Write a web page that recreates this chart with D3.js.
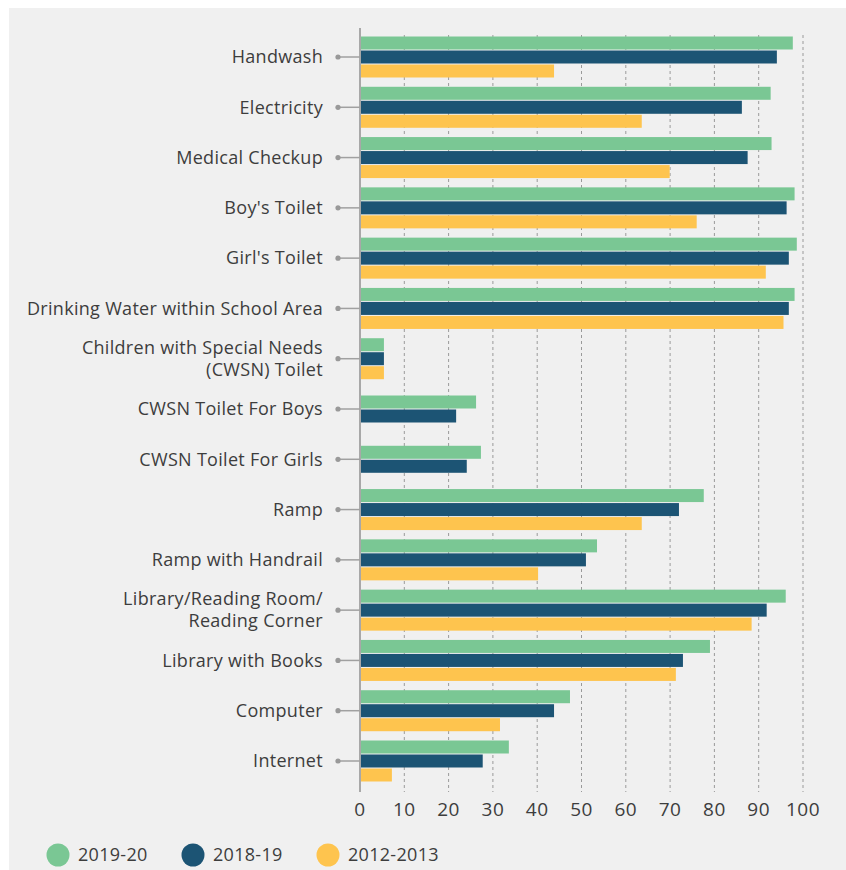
<!DOCTYPE html>
<meta charset="utf-8" />
<style>
  body { margin: 0; background: #fff; }
  text { font-family: "Open Sans", sans-serif; fill: #3d3d3d; }
</style>
<body>
<div id="chart"></div>
<script src="https://d3js.org/d3.v7.min.js"></script>
<script>
  // categories (\n = line break in label)
  var categories = [
    "Handwash",
    "Electricity",
    "Medical Checkup",
    "Boy's Toilet",
    "Girl's Toilet",
    "Drinking Water within School Area",
    "Children with Special Needs\n(CWSN) Toilet",
    "CWSN Toilet For Boys",
    "CWSN Toilet For Girls",
    "Ramp",
    "Ramp with Handrail",
    "Library/Reading Room/\nReading Corner",
    "Library with Books",
    "Computer",
    "Internet"
  ];
  var seriesNames = ["2019-20", "2018-19", "2012-2013"];
  var seriesColors = ["#7ac794", "#1c5474", "#fec44e"];
  var v2019 = [97.7, 92.7, 92.9, 98.1, 98.6, 98.1, 5.4, 26.2, 27.3, 77.6, 53.5, 96.1, 79.0, 47.4, 33.6];
  var v2018 = [94.1, 86.2, 87.5, 96.3, 96.8, 96.8, 5.4, 21.7, 24.1, 72.0, 51.0, 91.8, 72.9, 43.8, 27.7];
  var v2012 = [43.8, 63.6, 69.9, 76.0, 91.6, 95.6, 5.4, null, null, 63.6, 40.2, 88.4, 71.3, 31.6, 7.2];
  var ticks = [0, 10, 20, 30, 40, 50, 60, 70, 80, 90, 100];

  var W = 846, H = 870;
  var svg = d3.select("#chart").append("svg")
    .attr("width", W).attr("height", H);

  // panel background
  svg.append("rect")
    .attr("x", 9).attr("y", 8)
    .attr("width", W - 9).attr("height", H - 8)
    .attr("fill", "#f0f0f0");

  var x = d3.scaleLinear().domain([0, 100]).range([360, 803]);
  var y = d3.scalePoint().domain(categories).range([57, 761]);

  // dashed gridlines
  svg.append("g").selectAll("line")
    .data(ticks.filter(function (t) { return t > 0; }))
    .enter().append("line")
    .attr("x1", function (d) { return x(d); })
    .attr("x2", function (d) { return x(d); })
    .attr("y1", 35).attr("y2", 792)
    .attr("stroke", "#9a9a9a")
    .attr("stroke-width", 1)
    .attr("stroke-dasharray", "3,3");

  // build rows
  var rows = categories.map(function (c, i) {
    var vals = [v2019[i], v2018[i], v2012[i]];
    var bars = [];
    vals.forEach(function (v, j) {
      if (v != null) bars.push({ series: j, value: v });
    });
    return { cat: c, bars: bars };
  });

  var bars = svg.append("g");
  rows.forEach(function (r) {
    var n = r.bars.length;
    var c = y(r.cat);
    var inner = d3.scaleBand()
      .domain(r.bars.map(function (b) { return b.series; }))
      .range([c - (14 * n - 1) / 2, c + (14 * n - 1) / 2])
      .paddingInner(1 / 14);
    bars.selectAll(null)
      .data(r.bars)
      .enter().append("rect")
      .attr("x", x(0))
      .attr("y", function (d) { return inner(d.series); })
      .attr("width", function (d) { return x(d.value) - x(0); })
      .attr("height", inner.bandwidth())
      .attr("fill", function (d) { return seriesColors[d.series]; });
  });

  // vertical axis line
  svg.append("line")
    .attr("x1", x(0)).attr("x2", x(0))
    .attr("y1", 28).attr("y2", 792)
    .attr("stroke", "#a8a8a8")
    .attr("stroke-width", 2);

  // category labels with pin marker
  var lab = svg.append("g").selectAll("g")
    .data(categories)
    .enter().append("g")
    .attr("transform", function (d) { return "translate(0," + y(d) + ")"; });
  lab.append("line")
    .attr("x1", 338).attr("x2", x(0))
    .attr("stroke", "#a0a0a0").attr("stroke-width", 1.5);
  lab.append("circle")
    .attr("cx", 338).attr("r", 2.6).attr("fill", "#999");
  lab.append("text")
    .attr("x", 323)
    .attr("text-anchor", "end")
    .style("font-size", "18px")
    .style("letter-spacing", "0.3px")
    .each(function (d) {
      var lines = d.split("\n");
      var t = d3.select(this);
      lines.forEach(function (l, k) {
        t.append("tspan")
          .attr("x", 323)
          .attr("y", (k - (lines.length - 1) / 2) * 22)
          .attr("dy", "0.35em")
          .text(l);
      });
    });

  // x tick labels
  svg.append("g").selectAll("text")
    .data(ticks)
    .enter().append("text")
    .attr("x", function (d) { return x(d); })
    .attr("y", 809)
    .attr("dy", "0.35em")
    .attr("text-anchor", "middle")
    .style("font-size", "19px")
    .style("letter-spacing", "0.5px")
    .text(function (d) { return d; });

  // legend
  var leg = svg.append("g").selectAll("g")
    .data(seriesNames)
    .enter().append("g")
    .attr("transform", function (d, i) { return "translate(" + (58 + i * 135) + ",855)"; });
  leg.append("circle")
    .attr("r", 11.5)
    .attr("fill", function (d, i) { return seriesColors[i]; });
  leg.append("text")
    .attr("x", 20)
    .attr("dy", "0.35em")
    .style("font-size", "18px")
    .style("letter-spacing", "0.3px")
    .text(function (d) { return d; });
</script>
</body>
